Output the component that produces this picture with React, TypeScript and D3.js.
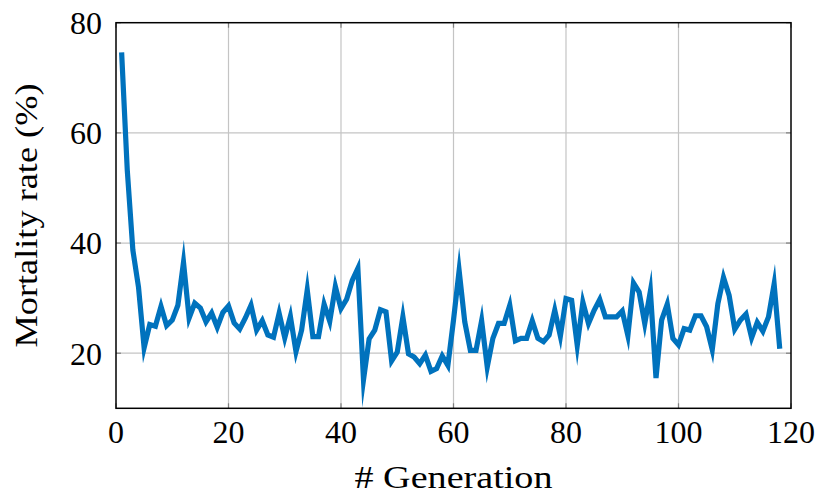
import * as d3 from 'd3';

// mortality rate (%) per generation, generation 1..118
const generations = d3.range(1, 119);
const mortality = [
  74.6, 53.3, 38.7, 32, 21, 25.2, 24.9, 28.5, 25, 26,
  28.7, 36.5, 26.4, 29.1, 28.2, 25.7, 27.3, 24.7, 27.4, 28.6,
  25.5, 24.4, 26.4, 28.7, 24.2, 25.9, 23.3, 22.9, 27.25, 22.8,
  26.7, 20.3, 24.2, 31.5, 23, 23, 28.9, 25.8, 32.1, 28.1,
  29.8, 33.2, 35.4, 15.2, 22.6, 24.2, 27.9, 27.5, 18.6, 20.2,
  26.6, 19.9, 19.3, 18.1, 19.65, 16.7, 17.2, 19.5, 17.8, 26,
  35, 25.7, 20.5, 20.5, 25.9, 17.5, 22.7, 25.4, 25.4, 28.7,
  22.25, 22.7, 22.7, 25.9, 22.7, 22.1, 23.3, 27.8, 23.1, 29.9,
  29.6, 21.4, 29.25, 25.4, 27.8, 29.75, 26.6, 26.6, 26.6, 27.65,
  23.2, 32.75, 31.1, 25.4, 31.25, 15.5, 26, 28.9, 22.7, 21.5,
  24.45, 24.2, 26.8, 26.8, 24.8, 20.65, 29, 33.75, 30.5, 24.35,
  26, 27.1, 22.8, 25.6, 24, 26.6, 32.55, 20.8,
];
const xTicks = [0, 20, 40, 60, 80, 100, 120];
const yTicks = [20, 40, 60, 80];

const W = 816;
const H = 495;
const plot = { left: 116, right: 791, top: 22.7, bottom: 408.3 };
const font = '"Liberation Serif", "Times New Roman", serif';
const fs = 32;

export default function App() {
  const x = d3.scaleLinear().domain([0, 120]).range([plot.left, plot.right]);
  const y = d3.scaleLinear().domain([10, 80]).range([plot.bottom, plot.top]);

  const line = d3
    .line<number>()
    .x((_, i) => x(generations[i]))
    .y((d) => y(d));

  const tickLen = 5;

  return (
    <svg
      width={W}
      height={H}
      style={{ position: 'absolute', left: 0, top: 0, background: '#fff' }}
    >
      {/* grid */}
      {xTicks.slice(1, -1).map((t) => (
        <line key={'gx' + t} x1={x(t)} x2={x(t)} y1={plot.top} y2={plot.bottom} stroke="#c4c4c4" strokeWidth={1.2} />
      ))}
      {yTicks.slice(0, -1).map((t) => (
        <line key={'gy' + t} x1={plot.left} x2={plot.right} y1={y(t)} y2={y(t)} stroke="#c4c4c4" strokeWidth={1.2} />
      ))}

      {/* ticks, inside on all four sides */}
      {xTicks.map((t) => (
        <g key={'tx' + t} stroke="#7f7f7f" strokeWidth={1.2}>
          <line x1={x(t)} x2={x(t)} y1={plot.bottom} y2={plot.bottom - tickLen} />
          <line x1={x(t)} x2={x(t)} y1={plot.top} y2={plot.top + tickLen} />
        </g>
      ))}
      {yTicks.map((t) => (
        <g key={'ty' + t} stroke="#7f7f7f" strokeWidth={1.2}>
          <line x1={plot.left} x2={plot.left + tickLen} y1={y(t)} y2={y(t)} />
          <line x1={plot.right} x2={plot.right - tickLen} y1={y(t)} y2={y(t)} />
        </g>
      ))}

      {/* data, clipped to the axes box */}
      <clipPath id="plotclip">
        <rect x={plot.left} y={plot.top} width={plot.right - plot.left} height={plot.bottom - plot.top} />
      </clipPath>
      <path
        d={line(mortality) ?? ''}
        fill="none"
        stroke="#0072bd"
        strokeWidth={5.2}
        strokeLinejoin="miter"
        strokeMiterlimit={11.5}
        clipPath="url(#plotclip)"
      />

      {/* frame */}
      <rect
        x={plot.left}
        y={plot.top}
        width={plot.right - plot.left}
        height={plot.bottom - plot.top}
        fill="none"
        stroke="#000"
        strokeWidth={1.5}
      />

      {/* tick labels */}
      {xTicks.map((t) => (
        <text key={'lx' + t} x={x(t)} y={443} textAnchor="middle" fontFamily={font} fontSize={fs}>
          {t}
        </text>
      ))}
      {yTicks.map((t) => (
        <text key={'ly' + t} x={plot.left - 14} y={y(t) + 11.3} textAnchor="end" fontFamily={font} fontSize={fs}>
          {t}
        </text>
      ))}

      {/* axis labels */}
      <text
        x={(plot.left + plot.right) / 2}
        y={488}
        textAnchor="middle"
        fontFamily={font}
        fontSize={fs}
        textLength={198}
        lengthAdjust="spacingAndGlyphs"
      >
        # Generation
      </text>
      <text
        transform={`translate(37,${(plot.top + plot.bottom) / 2}) rotate(-90)`}
        textAnchor="middle"
        fontFamily={font}
        fontSize={fs}
        textLength={264}
        lengthAdjust="spacingAndGlyphs"
      >
        Mortality rate (%)
      </text>
    </svg>
  );
}
